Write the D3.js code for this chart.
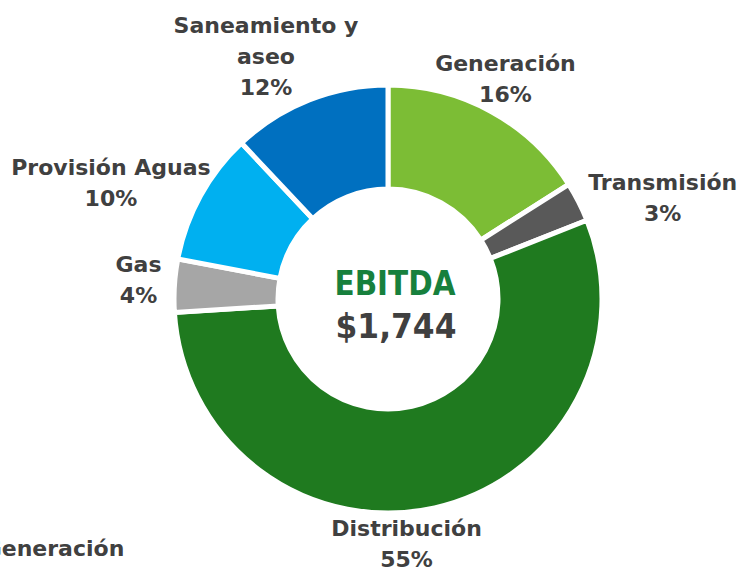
<!DOCTYPE html>
<html>
<head>
<meta charset="utf-8">
<script src="https://cdn.jsdelivr.net/npm/d3@7"></script>
<style>
  body { margin: 0; background: #fff; }
  text { font-family: "DejaVu Sans", Verdana, sans-serif; font-weight: bold; }
</style>
</head>
<body>
<div id="chart"></div>
<script>
// Data
const categories = ["Generación", "Transmisión", "Distribución", "Gas", "Provisión Aguas", "Saneamiento y aseo"];
const shares = [16, 3, 55, 4, 10, 12];
const labelLines = [["Generación"], ["Transmisión"], ["Distribución"], ["Gas"], ["Provisión Aguas"], ["Saneamiento y", "aseo"]];
const centerTitle = "EBITDA";
const centerValue = "$1,744";
// clipped label of a neighbouring chart
const sideLabel = ["Generación", "22%"];

// Layout
const width = 740, height = 570;
const cx = 388, cy = 299;
const outerR = 214, innerR = 110;
const labelR = 250;
const lineH = 31;
// nudges from the radial label position (Excel best-fit placement)
const labelNudge = [[-3, -1], [52, 12], [-36, 1], [0, -4], [-58, 4], [-30, -11]];

const color = d3.scaleOrdinal()
  .domain(categories)
  .range(["#7CBD35", "#595959", "#1F7A1F", "#A6A6A6", "#00B0F0", "#0070C0"]);

const svg = d3.select("#chart")
  .append("svg")
  .attr("width", width)
  .attr("height", height);

const g = svg.append("g")
  .attr("transform", `translate(${cx},${cy})`);

const data = categories.map((c, i) => ({ name: c, value: shares[i], lines: labelLines[i], i }));

const pie = d3.pie()
  .value(d => d.value)
  .sort(null);

const arc = d3.arc()
  .innerRadius(innerR)
  .outerRadius(outerR);

const arcs = pie(data);

// Draw slices
g.selectAll("path.slice")
  .data(arcs)
  .enter()
  .append("path")
  .attr("class", "slice")
  .attr("d", arc)
  .attr("fill", d => color(d.data.name))
  .attr("stroke", "#fff")
  .attr("stroke-width", 5)
  .attr("stroke-linejoin", "miter");

// Labels
arcs.forEach(a => {
  const mid = (a.startAngle + a.endAngle) / 2;
  const nudge = labelNudge[a.data.i];
  const x = labelR * Math.sin(mid) + nudge[0];
  const y = -labelR * Math.cos(mid) + nudge[1];
  const lines = a.data.lines.concat([a.data.value + "%"]);
  const n = lines.length;
  const t = g.append("text")
    .attr("text-anchor", "middle")
    .attr("fill", "#404040")
    .attr("font-size", 22);
  lines.forEach((line, k) => {
    t.append("tspan")
      .attr("x", x)
      .attr("y", y + 8 + (k - (n - 1) / 2) * lineH)
      .text(line);
  });
});

// Centre text (sits a little right of the ring centre, as in the original)
g.append("text")
  .attr("text-anchor", "middle")
  .attr("x", 7)
  .attr("y", -4)
  .attr("fill", "#17803D")
  .attr("font-size", 34)
  .attr("textLength", 121)
  .attr("lengthAdjust", "spacingAndGlyphs")
  .text(centerTitle);

g.append("text")
  .attr("text-anchor", "middle")
  .attr("x", 8)
  .attr("y", 39)
  .attr("fill", "#404040")
  .attr("font-size", 34)
  .attr("textLength", 121)
  .attr("lengthAdjust", "spacingAndGlyphs")
  .text(centerValue);

// Neighbouring chart label, cut off by the frame
const side = svg.append("text")
  .attr("text-anchor", "middle")
  .attr("fill", "#404040")
  .attr("font-size", 22);
sideLabel.forEach((line, k) => {
  side.append("tspan")
    .attr("x", 54)
    .attr("y", 556 + k * lineH)
    .text(line);
});
</script>
</body>
</html>
